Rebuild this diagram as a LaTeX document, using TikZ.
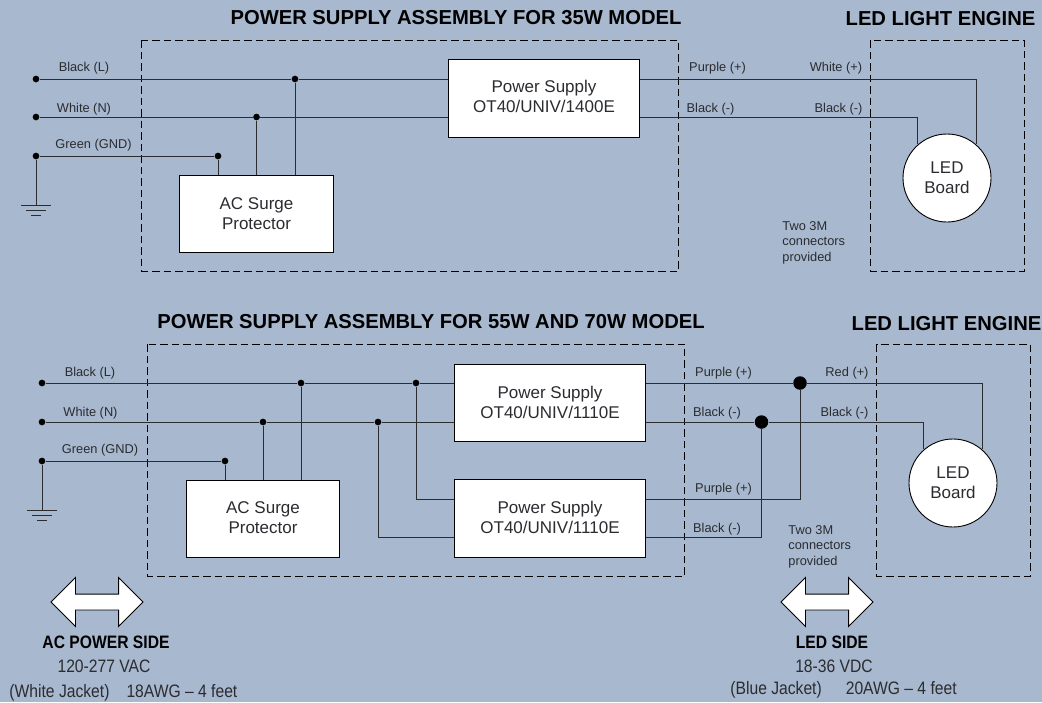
\documentclass[tikz,border=0pt]{standalone}
\usepackage{fontspec}
\setmainfont{Liberation Sans}
\newfontfamily\narrowfont[FakeStretch=0.87]{Liberation Sans}
\usetikzlibrary{shapes.arrows, positioning}
\definecolor{panelblue}{HTML}{A8B8CF}
\definecolor{wiregray}{HTML}{2A2C30}
\begin{document}
\begin{tikzpicture}[x=1pt,y=-1pt,line width=0.9pt,
      block node/.style={rectangle,draw=black,fill=white,font=\fontsize{17}{20}\selectfont,text=wiregray,align=center,inner sep=0pt},
      led node/.style={circle,draw=black,fill=white,font=\fontsize{17}{20}\selectfont,text=wiregray,align=center,inner sep=0pt,minimum size=88pt},
      title node/.style={font=\fontsize{20.2}{22}\selectfont\bfseries,inner sep=0pt},
      wire label/.style={font=\fontsize{12.8}{15}\selectfont,text=wiregray,inner sep=0pt,yshift=-1.2pt},
      note node/.style={font=\fontsize{12.8}{15.5}\selectfont,text=wiregray,align=left,inner sep=0pt,anchor=north west},
      side node/.style={font=\narrowfont\fontsize{18}{20}\selectfont,text=wiregray,inner sep=0pt},
      side head/.style={font=\narrowfont\bfseries\fontsize{18}{20}\selectfont,inner sep=0pt},
      terminal/.style={circle,fill=black,inner sep=0pt,minimum size=6.7pt},
      junction/.style={circle,fill=black,inner sep=0pt,minimum size=6.7pt},
      big junction/.style={circle,fill=black,inner sep=0pt,minimum size=13.5pt},
      side arrow/.style={double arrow,draw=black,fill=white,inner xsep=0pt,inner ysep=7.5pt,minimum height=92pt,minimum width=48pt,double arrow head extend=16.5pt},
      zone/.style={draw=black,line width=0.8pt,dash pattern=on 7.5pt off 4pt},
      wire/.style={draw=wiregray}]
  \fill[panelblue] (0,0) rectangle (1042,702);
  \useasboundingbox (0,0) rectangle (1042,702);

  % 35W model
  \node[title node] (title1) at (456,18) {POWER SUPPLY ASSEMBLY FOR 35W MODEL};
  \node[title node] (engine1) at (940.5,18.5) {LED LIGHT ENGINE};
  \draw[zone] (141.5,40) rectangle (678.5,271);
  \draw[zone] (870,40) rectangle (1024,271);

  \node[block node, minimum width=191pt, minimum height=77.5pt, text depth=3pt] (ps1) at (544,98.25) {Power Supply\\OT40/UNIV/1400E};
  \node[block node, minimum width=153.5pt, minimum height=77pt] (ac1) at (256.5,213.5) {AC Surge\\Protector};
  \node[led node] (led1) at (947,178) {LED\\Board};

  \node[terminal] (l1) at (36,79) {};
  \node[terminal] (n1) at (36,117) {};
  \node[terminal] (g1) at (36,156) {};
  \node[junction] (jl1) at (295,79) {};
  \node[junction] (jn1) at (256.5,117) {};
  \node[junction] (jg1) at (218,156) {};
  \coordinate (gnd1) at (36,205);

  \draw[wire] (l1) -- (jl1) -- (jl1 -| ps1.west);
  \draw[wire] (n1) -- (jn1) -- (jn1 -| ps1.west);
  \draw[wire] (g1) -- (jg1);
  \draw[wire] (jl1) -- (jl1 |- ac1.north);
  \draw[wire] (jn1) -- (jn1 |- ac1.north);
  \draw[wire] (jg1) -- (jg1 |- ac1.north);
  \draw[wire] (jl1 -| ps1.east) -| (led1.49);
  \draw[wire] (jn1 -| ps1.east) -| (led1.131);
  \draw[wire] (g1) -- (gnd1);
  \draw[wire] ([xshift=-15pt]gnd1) -- ([xshift=15pt]gnd1);
  \draw[wire] ([xshift=-10pt,yshift=-5pt]gnd1) -- ([xshift=10pt,yshift=-5pt]gnd1);
  \draw[wire] ([xshift=-5pt,yshift=-10pt]gnd1) -- ([xshift=5pt,yshift=-10pt]gnd1);

  \node[wire label] (lb1) at (84,66.5) {Black (L)};
  \node[wire label] (lb2) at (84,107.5) {White (N)};
  \node[wire label] (lb3) at (93.5,144) {Green (GND)};
  \node[wire label] (lb4) at (717.5,66.5) {Purple (+)};
  \node[wire label] (lb5) at (836,67) {White (+)};
  \node[wire label] (lb6) at (710.5,107.5) {Black (-)};
  \node[wire label] (lb7) at (838.5,107.5) {Black (-)};
  \node[note node] (note1) at (782,221) {Two 3M\\connectors\\provided};

  % 55W and 70W model
  \node[title node] (title2) at (431,322) {POWER SUPPLY ASSEMBLY FOR 55W AND 70W MODEL};
  \node[title node] (engine2) at (946.5,323.5) {LED LIGHT ENGINE};
  \draw[zone] (147.5,344) rectangle (684.5,576);
  \draw[zone] (876.5,344) rectangle (1030,576);

  \node[block node, minimum width=191pt, minimum height=77.5pt, text depth=1pt] (ps2) at (550,402.75) {Power Supply\\OT40/UNIV/1110E};
  \node[block node, minimum width=191pt, minimum height=77.5pt, text depth=1pt] (ps3) at (550,518.25) {Power Supply\\OT40/UNIV/1110E};
  \node[block node, minimum width=153.5pt, minimum height=77pt, text depth=2pt] (ac2) at (263,518.5) {AC Surge\\Protector};
  \node[led node] (led2) at (953,483) {LED\\Board};

  \node[terminal] (l2) at (42,383) {};
  \node[terminal] (n2) at (42,422) {};
  \node[terminal] (g2) at (42,461) {};
  \node[junction] (jl2) at (301,383) {};
  \node[junction] (jn2) at (263,422) {};
  \node[junction] (jg2) at (225,461) {};
  \node[junction] (jl3) at (416,383) {};
  \node[junction] (jn3) at (378,422) {};
  \node[big junction] (jp) at (800,383) {};
  \node[big junction] (jm) at (761.5,422) {};
  \coordinate (in3) at (416,499);
  \coordinate (in4) at (378,537.5);
  \coordinate (gnd2) at (42,510);

  \draw[wire] (l2) -- (jl2) -- (jl3) -- (jl3 -| ps2.west);
  \draw[wire] (n2) -- (jn2) -- (jn3) -- (jn3 -| ps2.west);
  \draw[wire] (g2) -- (jg2);
  \draw[wire] (jl2) -- (jl2 |- ac2.north);
  \draw[wire] (jn2) -- (jn2 |- ac2.north);
  \draw[wire] (jg2) -- (jg2 |- ac2.north);
  \draw[wire] (jl3) -- (in3) -- (in3 -| ps3.west);
  \draw[wire] (jn3) -- (in4) -- (in4 -| ps3.west);
  \draw[wire] (jp -| ps2.east) -- (jp) -| (led2.49);
  \draw[wire] (jm -| ps2.east) -- (jm) -| (led2.131);
  \draw[wire] (in3 -| ps3.east) -| (jp);
  \draw[wire] (in4 -| ps3.east) -| (jm);
  \draw[wire] (g2) -- (gnd2);
  \draw[wire] ([xshift=-15pt]gnd2) -- ([xshift=15pt]gnd2);
  \draw[wire] ([xshift=-10pt,yshift=-5pt]gnd2) -- ([xshift=10pt,yshift=-5pt]gnd2);
  \draw[wire] ([xshift=-5pt,yshift=-10pt]gnd2) -- ([xshift=5pt,yshift=-10pt]gnd2);

  \node[wire label] (lb8) at (90,371.5) {Black (L)};
  \node[wire label] (lb9) at (90.5,411.5) {White (N)};
  \node[wire label] (lb10) at (100,449) {Green (GND)};
  \node[wire label] (lb11) at (723.5,371.5) {Purple (+)};
  \node[wire label] (lb12) at (847,371.5) {Red (+)};
  \node[wire label] (lb13) at (717,411.5) {Black (-)};
  \node[wire label] (lb14) at (844.5,411.5) {Black (-)};
  \node[wire label] (lb15) at (723.5,487.5) {Purple (+)};
  \node[wire label] (lb16) at (717,527.5) {Black (-)};
  \node[note node] (note2) at (788,525) {Two 3M\\connectors\\provided};

  % sides
  \node[side arrow] (acarrow) at (97,602) {};
  \node[side arrow] (ledarrow) at (827,602) {};
  \node[side head] (acside) at (106,642) {AC POWER SIDE};
  \node[side node] (acvolt) at (104,666) {120-277 VAC};
  \node[side node, anchor=west] (acwire) at (9,692.5) {(White Jacket)\hspace{17pt}18AWG – 4 feet};
  \node[side head] (ledside) at (832,642) {LED SIDE};
  \node[side node] (ledvolt) at (834,666) {18-36 VDC};
  \node[side node, anchor=west] (ledwire) at (730,689.5) {(Blue Jacket)\hspace{24pt}20AWG – 4 feet};
\end{tikzpicture}
\end{document}
